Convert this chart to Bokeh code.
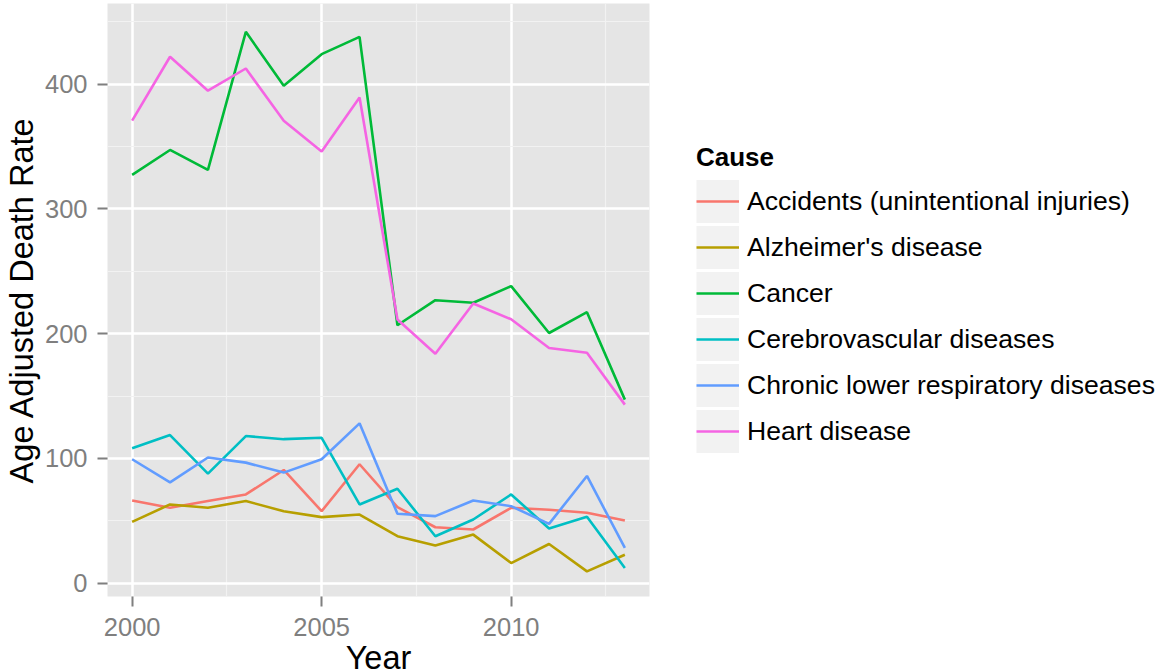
from bokeh.plotting import figure
from bokeh.models import Range1d, FixedTicker, Legend, LegendItem
from bokeh.layouts import row
from bokeh.embed import file_html
from bokeh.resources import INLINE

years = list(range(2000, 2014))
causes = ["Accidents (unintentional injuries)", "Alzheimer's disease", "Cancer",
          "Cerebrovascular diseases", "Chronic lower respiratory diseases", "Heart disease"]
accidents = [66.3, 60.4, 65.8, 71.1, 90.7, 57.7, 95.3, 60.9, 44.8, 43.0, 60.4, 58.8, 56.4, 50.2]
alzheimers = [49.1, 63.1, 60.4, 65.8, 57.7, 52.9, 55.0, 37.6, 30.1, 38.9, 16.1, 31.4, 9.4, 22.8]
cancer = [327.2, 347.2, 331.2, 441.9, 398.7, 424.0, 437.9, 206.7, 226.8, 224.7, 238.1, 200.5, 217.2, 147.1]
cerebro = [108.2, 118.7, 87.8, 117.9, 115.4, 116.5, 63.1, 75.7, 37.6, 51.0, 71.1, 43.8, 53.2, 12.1]
chronic = [99.3, 80.8, 100.7, 96.6, 88.6, 99.3, 128.1, 55.6, 53.7, 66.3, 61.7, 47.5, 85.9, 28.2]
heart = [370.7, 421.9, 394.7, 412.5, 370.7, 345.9, 389.3, 211.3, 183.9, 224.2, 211.5, 188.5, 184.7, 143.1]
series = [accidents, alzheimers, cancer, cerebro, chronic, heart]
colors = ["#F8766D", "#B79F00", "#00BA38", "#00BFC4", "#619CFF", "#F564E3"]

x_ticks = [2000, 2005, 2010]
x_minor = [2002.5, 2007.5, 2012.5]
y_ticks = [0, 100, 200, 300, 400]
y_minor = [50, 150, 250, 350, 450]

FONT = "Liberation Sans"
H = 700

# ---- main chart ----
p = figure(width=660, height=H, output_backend="svg", toolbar_location=None,
           x_range=Range1d(1999.35, 2013.65), y_range=Range1d(-10.7, 464.6),
           min_border_left=101, min_border_right=11, min_border_top=3, min_border_bottom=104)
p.background_fill_color = "#E5E5E5"
p.border_fill_color = "white"
p.outline_line_color = None

xt = FixedTicker(ticks=x_ticks, minor_ticks=x_minor)
yt = FixedTicker(ticks=y_ticks, minor_ticks=y_minor)
p.xaxis.ticker = xt
p.yaxis.ticker = yt
p.xgrid.ticker = xt
p.ygrid.ticker = yt
for g in (p.xgrid, p.ygrid):
    g.grid_line_color = "white"
    g.grid_line_width = 2.5
    g.minor_grid_line_color = "#F2F2F2"
    g.minor_grid_line_width = 1.2

for ax in (p.xaxis, p.yaxis):
    ax.axis_line_color = None
    ax.major_tick_line_color = "#7F7F7F"
    ax.major_tick_line_width = 2
    ax.major_tick_out = 10
    ax.major_tick_in = 0
    ax.minor_tick_line_color = None
    ax.major_label_text_color = "#7F7F7F"
    ax.major_label_text_font = FONT
    ax.major_label_text_font_size = "25.5px"
    ax.axis_label_text_font = FONT
    ax.axis_label_text_font_size = "32.5px"
    ax.axis_label_text_font_style = "normal"
    ax.axis_label_text_color = "black"

p.xaxis.major_label_standoff = 11
p.yaxis.major_label_standoff = 10
p.xaxis.axis_label = "Year"
p.xaxis.axis_label_standoff = 1
p.yaxis.axis_label = "Age Adjusted Death Rate"
p.yaxis.axis_label_standoff = 2

for vals, c in zip(series, colors):
    p.line(years, vals, line_color=c, line_width=2.6)

# ---- legend panel (proxy renderers lie outside its view) ----
q = figure(width=500, height=H, output_backend="svg", toolbar_location=None,
           x_range=Range1d(0, 1), y_range=Range1d(0, 1),
           x_axis_location=None, y_axis_location=None,
           min_border_left=0, min_border_right=0, min_border_top=0, min_border_bottom=0)
q.grid.visible = False
q.outline_line_color = None
q.background_fill_color = "white"
q.border_fill_color = "white"

items = []
for name, vals, c in zip(causes, series, colors):
    kr = q.line(years, vals, line_color="#F2F2F2", line_width=43, line_cap="butt")
    lr = q.line(years, vals, line_color=c, line_width=2.6)
    items.append(LegendItem(label=name, renderers=[kr, lr]))

legend = Legend(items=items, location=(36, 141.6), orientation="vertical",
                glyph_width=43, glyph_height=46, spacing=0, label_standoff=8,
                padding=0, margin=0, border_line_color=None, background_fill_alpha=0,
                label_text_font=FONT, label_text_font_size="26.6px", label_text_color="black",
                title="Cause", title_text_font=FONT, title_text_font_size="26px",
                title_text_font_style="bold", title_text_color="black", title_standoff=5)
q.add_layout(legend)

layout = row(p, q)
open("out.html", "w").write(file_html(layout, INLINE))
